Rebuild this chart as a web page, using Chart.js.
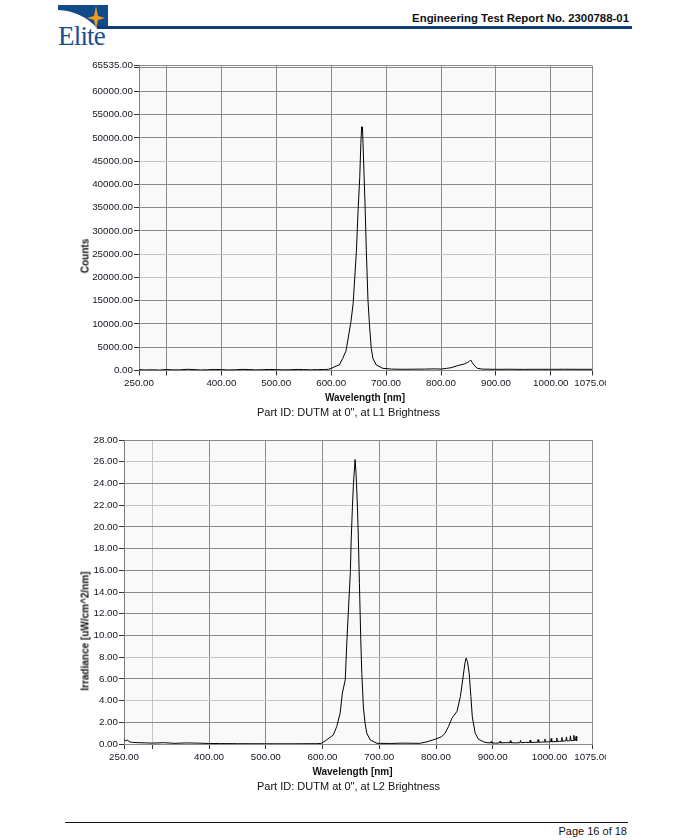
<!DOCTYPE html>
<html>
<head>
<meta charset="utf-8">
<script src="https://cdn.jsdelivr.net/npm/chart.js@4.4.1/dist/chart.umd.min.js"></script>
<style>
  html, body { margin: 0; padding: 0; background: #ffffff; }
  body { width: 697px; height: 840px; position: relative; overflow: hidden; font-family: "Liberation Sans", Arial, sans-serif; }
  .abs { position: absolute; }
  .hdr { right: 68px; top: 12px; font-size: 11.4px; font-weight: bold; color: #111; white-space: nowrap; }
  .hline { left: 97px; top: 25.5px; width: 535px; height: 3px; background: #0e3f7c; }
  .fline { left: 65px; top: 822px; width: 563px; height: 1px; background: #111; }
  .ftr { right: 70px; top: 825px; font-size: 11px; color: #111; white-space: nowrap; }
  .logoText { left: 58px; top: 23px; font-family: "Liberation Serif", "Times New Roman", serif; font-size: 27px; line-height: 27px; color: #1b4f8e; letter-spacing: -0.8px; }
  .ytitle { font-size: 10px; font-weight: bold; color: #111; white-space: nowrap; transform: translate(-50%, -50%) rotate(-90deg); }
  .xtitle { font-size: 10px; font-weight: bold; color: #111; white-space: nowrap; transform: translate(-50%, -50%); }
  .cap { font-size: 11px; color: #111; white-space: nowrap; transform: translate(-50%, -50%); }
  canvas { position: absolute; left: 0; }
</style>
</head>
<body>
<svg class="abs" style="left:58px;top:5px" width="52" height="24" viewBox="0 0 52 24">
  <rect x="0" y="0" width="50" height="24" fill="#124b8a"/>
  <path d="M0,5 Q24,6 40,24 L0,24 Z" fill="#ffffff"/>
  <path d="M38,1 L40,11 L47,13 L40,15 L38,24 L36,15 L29,13 L36,11 Z" fill="#f29a21"/>
</svg>
<div class="abs logoText">Elite</div>
<div class="abs hdr">Engineering Test Report No. 2300788-01</div>
<div class="abs hline"></div>

<canvas id="c1" width="606" height="345" style="top:55px"></canvas>
<div class="abs ytitle" style="left:84.5px;top:256px">Counts</div>
<div class="abs xtitle" style="left:365px;top:397px">Wavelength [nm]</div>
<div class="abs cap" style="left:348.5px;top:412px">Part ID: DUTM at 0", at L1 Brightness</div>

<canvas id="c2" width="606" height="345" style="top:430px"></canvas>
<div class="abs ytitle" style="left:84.5px;top:631px">Irradiance [uW/cm^2/nm]</div>
<div class="abs xtitle" style="left:352.5px;top:771px">Wavelength [nm]</div>
<div class="abs cap" style="left:348.5px;top:786px">Part ID: DUTM at 0", at L2 Brightness</div>

<div class="abs fline"></div>
<div class="abs ftr">Page 16 of 18</div>

<script>
// ---- Data ----
const xTicks = [250, 300, 400, 500, 600, 700, 800, 900, 1000, 1075];
const xTickLabels = ["250.00", "", "400.00", "500.00", "600.00", "700.00", "800.00", "900.00", "1000.00", "1075.00"];

const countsTicks = [0, 5000, 10000, 15000, 20000, 25000, 30000, 35000, 40000, 45000, 50000, 55000, 60000, 65000, 65535];
const countsLightGrid = [20000, 25000, 45000];

const irrTicks = [0, 2, 4, 6, 8, 10, 12, 14, 16, 18, 20, 22, 24, 26, 28];
const irrLightGrid = [4, 8, 22, 26];
const wlLightGrid2 = [300];

const wl1 = [250, 262, 275, 288, 300, 312, 325, 338, 350, 362, 375, 388, 400, 412, 425, 438, 450, 462, 475, 488, 500, 512, 525, 538, 550, 562, 575, 588, 595,
  600, 610, 615, 621, 627, 631, 636, 640, 643, 646, 649, 652, 654, 655.5, 656.5, 657, 658, 660, 662, 664, 667, 670, 673, 676, 682, 694,
  710, 730, 750, 770, 790, 800, 810, 818, 830, 842, 848, 851, 854, 857, 860, 866, 875, 900, 925, 950, 975, 1000, 1025, 1050, 1075];
const counts1 = [180, 120, 150, 90, 220, 130, 140, 260, 200, 110, 160, 230, 190, 120, 150, 240, 210, 130, 170, 220, 190, 140, 160, 230, 200, 150, 180, 220, 250,
  450, 1000, 1200, 2600, 4200, 7000, 10500, 14400, 20100, 25800, 34400, 41500, 48700, 52400, 51500, 52300, 48700, 41500, 34400, 25800, 15100, 9400, 4750, 2600, 1200, 470,
  300, 260, 280, 300, 350, 300, 450, 600, 1030, 1400, 1700, 1900, 2250, 1700, 1180, 470, 300, 250, 270, 240, 260, 250, 270, 250, 260];

const wl2 = [250, 253, 256, 260, 265, 275, 290, 300, 320, 340, 360, 380, 400, 420, 450, 500, 550, 590,
  598, 607, 619, 625, 631, 635, 640, 643, 646, 649, 650.5, 652.7, 654.6, 657.4, 659, 661.5, 663.2, 665, 667.4, 669.2, 672, 675, 678, 684, 696,
  720, 740, 771, 784, 798, 810, 816, 822, 828, 837, 843, 847, 851, 853, 855.5, 858.5, 861.5, 864, 869, 875, 884,
  890, 896, 897, 898, 905, 912, 913, 914, 922, 930, 931, 932, 940, 948, 949, 950, 958, 965, 966, 967, 973, 979, 980, 981, 986, 991, 992, 993,
  998, 1002, 1003, 1004, 1008, 1012, 1013, 1014, 1018, 1021, 1022, 1023, 1026, 1029, 1030, 1031, 1034, 1036, 1037, 1038, 1040, 1042, 1043, 1044, 1046, 1047, 1048];
const irr2 = [0.40, 0.30, 0.35, 0.20, 0.15, 0.12, 0.10, 0.08, 0.12, 0.06, 0.10, 0.08, 0.05, 0.04, 0.03, 0.02, 0.02, 0.03,
  0.06, 0.37, 0.83, 1.6, 2.83, 4.7, 5.9, 9.6, 12.7, 15.8, 18.8, 21.9, 24.1, 26.2, 25.0, 21.9, 18.8, 14.8, 9.6, 6.5, 3.4, 1.9, 1.0, 0.37, 0.06,
  0.05, 0.08, 0.06, 0.2, 0.43, 0.67, 1.0, 1.6, 2.37, 3.0, 4.37, 5.9, 7.45, 7.9, 7.6, 6.5, 4.37, 2.5, 1.0, 0.43, 0.2,
  0.12, 0.1, 0.22, 0.1, 0.08, 0.1, 0.25, 0.1, 0.12, 0.12, 0.3, 0.12, 0.1, 0.12, 0.32, 0.12, 0.15, 0.14, 0.35, 0.14, 0.15, 0.16, 0.4, 0.16, 0.18, 0.18, 0.45, 0.18,
  0.2, 0.2, 0.5, 0.2, 0.22, 0.22, 0.55, 0.22, 0.25, 0.25, 0.6, 0.25, 0.28, 0.28, 0.65, 0.28, 0.3, 0.3, 0.75, 0.3, 0.32, 0.32, 0.8, 0.32, 0.35, 0.7, 0.3];

// ---- Chart construction ----
const plotBg = {
  id: 'plotBg',
  beforeDraw(chart) {
    const a = chart.chartArea, c = chart.ctx;
    c.save(); c.fillStyle = '#f9f9f9';
    c.fillRect(a.left, a.top, a.right - a.left, a.bottom - a.top);
    c.restore();
  }
};

const tickFont = { family: '"Liberation Sans", Arial, sans-serif', size: 9.8 };

function makeChart(id, xs, ys, yTicks, yLight, xLight, yMax, yWidth, chartTop, chartBottomRel) {
  const canvas = document.getElementById(id);
  const H = canvas.height;
  return new Chart(canvas, {
    type: 'line',
    data: {
      datasets: [{
        data: xs.map((x, i) => ({ x: x, y: ys[i] })),
        borderColor: '#000000',
        borderWidth: 1,
        pointRadius: 0,
        tension: 0,
        fill: false
      }]
    },
    plugins: [plotBg],
    options: {
      responsive: false,
      animation: false,
      devicePixelRatio: 1,
      layout: { padding: { left: 0, right: 14, top: chartTop, bottom: 0 } },
      plugins: { legend: { display: false }, tooltip: { enabled: false } },
      scales: {
        x: {
          type: 'linear', min: 250, max: 1075,
          afterBuildTicks: s => { s.ticks = xTicks.map(v => ({ value: v })); },
          afterFit: s => { s.paddingLeft = 0; s.paddingRight = 0; s.height = H - chartBottomRel; },
          ticks: {
            autoSkip: false, maxRotation: 0, padding: 2, color: '#141420', font: tickFont,
            callback: (v) => { const i = xTicks.indexOf(v); return i >= 0 ? xTickLabels[i] : ''; }
          },
          grid: {
            color: ctx => (ctx.tick && xLight.includes(ctx.tick.value)) ? '#c4c4c4' : '#8a8a8a',
            tickColor: '#333333', tickLength: 5, lineWidth: 1
          },
          border: { display: true, color: '#8a8a8a' }
        },
        y: {
          type: 'linear', min: 0, max: yMax,
          afterBuildTicks: s => { s.ticks = yTicks.map(v => ({ value: v })); },
          afterFit: s => { s.paddingTop = 0; s.paddingBottom = 0; s.width = yWidth; },
          ticks: {
            autoSkip: false, padding: 1, color: '#141420', font: tickFont,
            callback: (v) => (v === 65000 ? '' : Number(v).toFixed(2))
          },
          grid: {
            color: ctx => (ctx.tick && yLight.includes(ctx.tick.value)) ? '#c4c4c4' : '#8a8a8a',
            tickColor: '#333333', tickLength: 5, lineWidth: 1
          },
          border: { display: true, color: '#808080' }
        }
      }
    }
  });
}

// top: plot area left 139, top 65.5 (rel 10.5), bottom 370.5 (rel 315.5)
makeChart('c1', wl1, counts1, countsTicks, countsLightGrid, [], 65535, 139, 10.5, 315.5);
// bottom: plot area left 124, top 440 (rel 10), bottom 744 (rel 314)
makeChart('c2', wl2, irr2, irrTicks, irrLightGrid, wlLightGrid2, 28, 124, 10, 314);
</script>
</body>
</html>
